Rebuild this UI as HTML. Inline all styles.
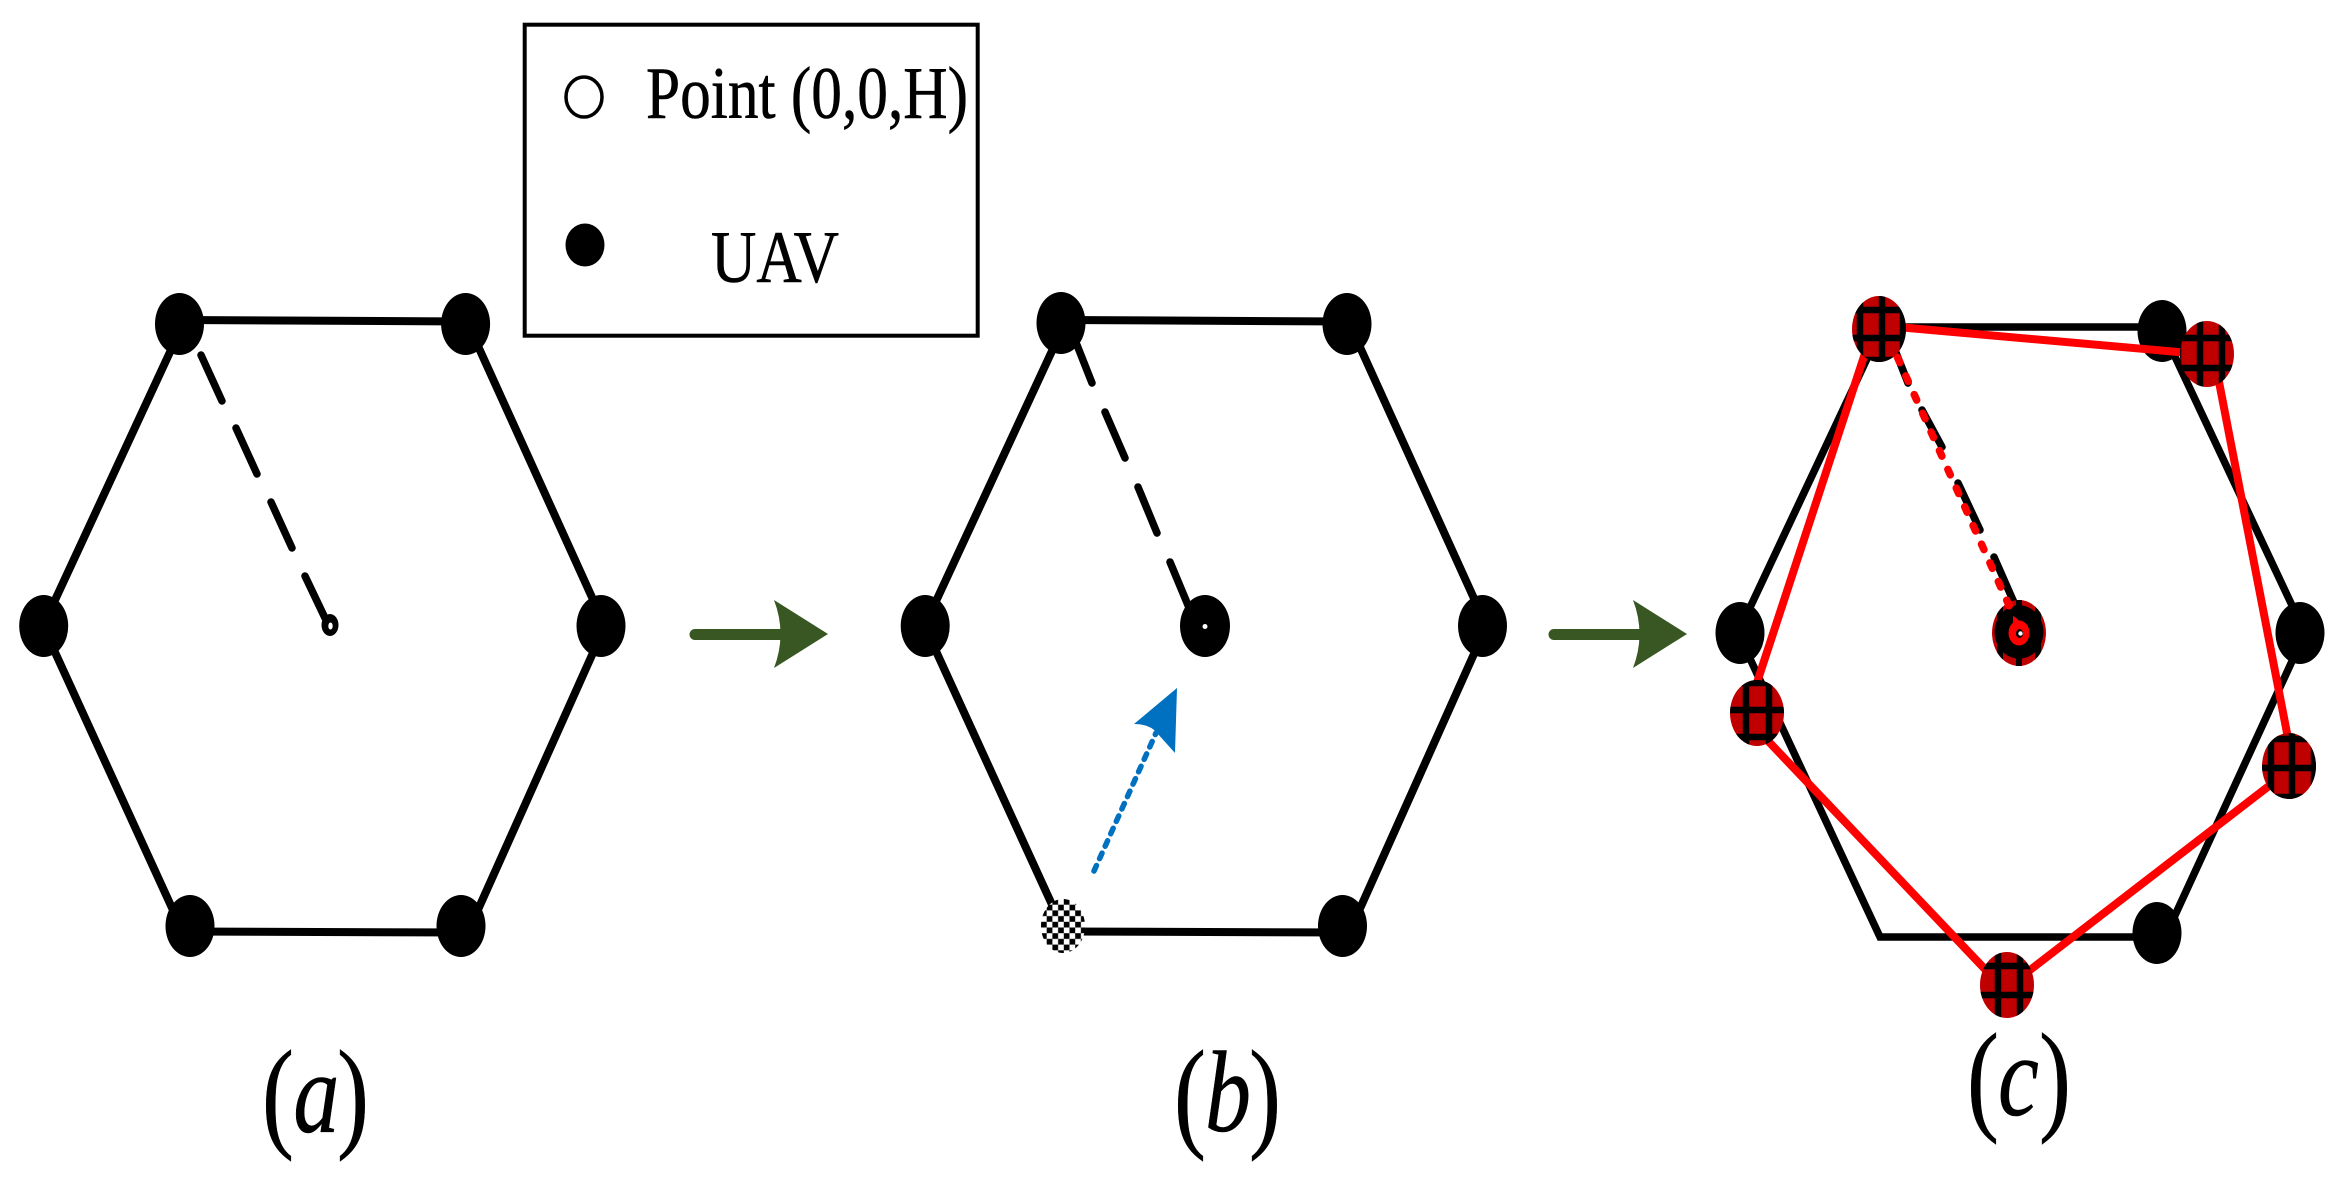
<!DOCTYPE html>
<html>
<head>
<meta charset="utf-8">
<style>
html,body{margin:0;padding:0;background:#fff;}
svg{display:block;}
text{font-family:"Liberation Serif",serif;fill:#000;stroke:#000;stroke-width:.6px;}
</style>
</head>
<body>
<svg xmlns="http://www.w3.org/2000/svg" width="2341" height="1178" viewBox="0 0 2341 1178">
<defs>
<clipPath id="pc"><ellipse cx="0" cy="0" rx="27" ry="33"/></clipPath>
<pattern id="chk" patternUnits="userSpaceOnUse" x="1041" y="899" width="11.4" height="11.4">
<rect width="11.4" height="11.4" fill="#fff"/>
<rect width="5.7" height="5.7" fill="#000"/>
<rect x="5.7" y="5.7" width="5.7" height="5.7" fill="#000"/>
</pattern>
<g id="hex" fill="none" stroke="#000" stroke-width="8">
<path d="M180 320L466 321.500"/>
<path d="M183 324L43 626L183 932"/>
<path d="M468 324L605 626L468 932"/>
<path d="M183 931.500L468 932.500"/>
</g>
<g id="dot"><ellipse cx="0" cy="0" rx="24.500" ry="31" fill="#000"/></g>
</defs>
<rect width="2341" height="1178" fill="#fff"/>

<!-- legend -->
<rect x="524.700" y="24.700" width="453" height="311" fill="none" stroke="#000" stroke-width="4"/>
<ellipse cx="584" cy="97" rx="18" ry="20" fill="#fff" stroke="#000" stroke-width="3.500"/>
<ellipse cx="585" cy="245" rx="19.500" ry="21.500" fill="#000"/>
<text x="646" y="118" font-size="74" textLength="322" lengthAdjust="spacingAndGlyphs">Point (0,0,H)</text>
<text x="711" y="282" font-size="74" textLength="128" lengthAdjust="spacingAndGlyphs">UAV</text>

<!-- panel a -->
<use href="#hex"/>
<use href="#dot" x="179.500" y="324"/>
<use href="#dot" x="465.600" y="324"/>
<use href="#dot" x="43.700" y="626"/>
<use href="#dot" x="601" y="626"/>
<use href="#dot" x="190" y="926"/>
<use href="#dot" x="461" y="926"/>
<g stroke="#000" stroke-width="7.500" stroke-linecap="round" fill="none">
<path d="M201 355L222 401M236 428L257 474M271 502L292 548M305 576L325 618"/>
</g>
<ellipse cx="330" cy="625" rx="8.500" ry="11" fill="#000"/>
<ellipse cx="330.500" cy="626" rx="2.200" ry="3.500" fill="#fff"/>

<!-- arrow 1 -->
<path d="M695 629H782V640H695A5.500 5.500 0 0 1 695 629Z" fill="#385723"/>
<path d="M774 600L828 634L774 668Q787 634 774 600Z" fill="#385723"/>

<!-- panel b -->
<use href="#hex" x="881.500"/>
<use href="#dot" x="1061" y="323"/>
<use href="#dot" x="1347" y="324"/>
<use href="#dot" x="925.200" y="626"/>
<use href="#dot" x="1482.500" y="626"/>
<use href="#dot" x="1342.500" y="926"/>
<ellipse cx="1063" cy="926" rx="22" ry="27" fill="url(#chk)"/>
<g stroke="#000" stroke-width="7.500" stroke-linecap="round" fill="none">
<path d="M1077 345L1092 383M1105 412L1125 458M1138 487L1157 533M1170 562L1190 610"/>
</g>
<ellipse cx="1205" cy="626" rx="25" ry="31" fill="#000"/>
<circle cx="1205" cy="626.500" r="2.500" fill="#fff"/>
<path d="M1094 871L1156 733" fill="none" stroke="#0070c0" stroke-width="5.500" stroke-linecap="round" stroke-dasharray="6 7.600"/>
<path d="M1177 688L1134 724Q1150 724 1157 733L1175 753Z" fill="#0070c0"/>

<!-- arrow 2 -->
<path d="M1554 629H1641V640H1554A5.500 5.500 0 0 1 1554 629Z" fill="#385723"/>
<path d="M1633 600L1687 634L1633 668Q1646 634 1633 600Z" fill="#385723"/>

<!-- panel c black -->
<g fill="none" stroke="#000" stroke-width="7.500">
<path d="M1880 327H2164"/>
<path d="M1881 329L1738 633L1880 937H2165"/>
<path d="M2161 327L2305 633L2165 937"/>
</g>
<use href="#dot" x="2162" y="331"/>
<use href="#dot" x="1740" y="633"/>
<use href="#dot" x="2300" y="633"/>
<use href="#dot" x="2157" y="933"/>
<path d="M1893 345L1908 383M1922 410L1942 447M1958 483L1980 530M1994 557L2016 607" fill="none" stroke="#000" stroke-width="7.500" stroke-linecap="round"/>

<!-- centre c -->
<g transform="translate(2019,633)">
<g clip-path="url(#pc)">
<rect x="-27" y="-33" width="54" height="66" fill="#c00000"/>
<path d="M0 -33V33M-19 -33V33M19 -33V33" stroke="#000" stroke-width="6" fill="none"/>
</g>
<ellipse cx="0" cy="-1" rx="24.500" ry="26.700" fill="#000"/>
<ellipse cx="0" cy="0" rx="10.500" ry="12.500" fill="#f00"/>
<path d="M-6 -8L-6 -17Q-3 -16 5 -7Z" fill="#f00"/>
<ellipse cx="0.500" cy="0.500" rx="3.500" ry="4.500" fill="#000"/>
<circle cx="1.500" cy="0.500" r="2.200" fill="#fff"/>
</g>

<!-- panel c red -->
<g fill="none" stroke="#f00" stroke-width="8">
<path d="M1875 325L2207 354.600"/>
<path d="M1873 329L1747 713"/>
<path d="M1760 732.500L2000 985"/>
<path d="M2008 987L2291 769"/>
<path d="M2213.600 354L2293 764"/>
</g>
<path d="M1897.400 357.200L2012 612" fill="none" stroke="#f00" stroke-width="7.500" stroke-linecap="round" stroke-dasharray="6 14.500"/>

<!-- plaid nodes -->
<g transform="translate(1879,329)" clip-path="url(#pc)">
<rect x="-27" y="-33" width="54" height="66" fill="#c00000"/>
<path d="M-19 -33V33M3 -33V33M24 -33V33M-27 -19H27M-27 9H27M-27 31H27" stroke="#000" stroke-width="6.500" fill="none"/>
</g>
<g transform="translate(2207,354)" clip-path="url(#pc)">
<rect x="-27" y="-33" width="54" height="66" fill="#c00000"/>
<path d="M-7 -33V33M15 -33V33M-29 -33V33M-27 -16H27M-27 14H27" stroke="#000" stroke-width="6.500" fill="none"/>
</g>
<g transform="translate(1757,713)" clip-path="url(#pc)">
<rect x="-27" y="-33" width="54" height="66" fill="#c00000"/>
<path d="M-11 -33V33M12 -33V33M-27 -3H27M-27 24H27M-27 -30H27" stroke="#000" stroke-width="6.500" fill="none"/>
</g>
<g transform="translate(2289,766)" clip-path="url(#pc)">
<rect x="-27" y="-33" width="54" height="66" fill="#c00000"/>
<path d="M-18 -33V33M3 -33V33M25 -33V33M-27 -27H27M-27 2H27M-27 31H27" stroke="#000" stroke-width="6.500" fill="none"/>
</g>
<g transform="translate(2007,985)" clip-path="url(#pc)">
<rect x="-27" y="-33" width="54" height="66" fill="#c00000"/>
<path d="M-9 -33V33M13 -33V33M-27 -19H27M-27 10H27" stroke="#000" stroke-width="6.500" fill="none"/>
</g>

<!-- labels -->
<text transform="translate(262,1135) scale(.78,1)" font-size="123">(</text>
<text transform="translate(293.400,1132) scale(.8,1)" font-size="115" font-style="italic">a</text>
<text transform="translate(337,1135) scale(.78,1)" font-size="123">)</text>

<text transform="translate(1174,1135) scale(.78,1)" font-size="123">(</text>
<text transform="translate(1205,1131) scale(.8,1)" font-size="115" font-style="italic">b</text>
<text transform="translate(1249,1135) scale(.78,1)" font-size="123">)</text>

<text transform="translate(1967,1118) scale(.78,1)" font-size="123">(</text>
<text transform="translate(1998,1115) scale(.8,1)" font-size="115" font-style="italic">c</text>
<text transform="translate(2039,1118) scale(.78,1)" font-size="123">)</text>
</svg>
</body>
</html>
